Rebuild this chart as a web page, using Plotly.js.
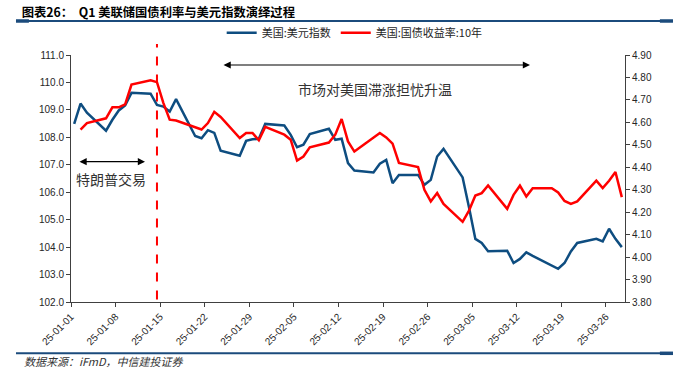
<!DOCTYPE html>
<html>
<head>
<meta charset="utf-8">
<script src="https://cdn.plot.ly/plotly-3.0.1.min.js"></script>
<style>html,body{margin:0;padding:0;background:#fff;}#chart{width:700px;height:376px;}</style>
</head>
<body>
<div id="chart"></div>
<script>
// ---- data ----
const dxyDates = ['2025-01-01','2025-01-02','2025-01-03','2025-01-06','2025-01-07','2025-01-08','2025-01-09','2025-01-10',
  '2025-01-13','2025-01-14','2025-01-15','2025-01-16','2025-01-17','2025-01-20','2025-01-21','2025-01-22','2025-01-23','2025-01-24',
  '2025-01-27','2025-01-28','2025-01-29','2025-01-30','2025-01-31','2025-02-03','2025-02-04','2025-02-05','2025-02-06','2025-02-07',
  '2025-02-10','2025-02-11','2025-02-12','2025-02-13','2025-02-14','2025-02-17','2025-02-18','2025-02-19','2025-02-20','2025-02-21',
  '2025-02-24','2025-02-25','2025-02-26','2025-02-27','2025-02-28','2025-03-03','2025-03-04','2025-03-05','2025-03-06','2025-03-07',
  '2025-03-10','2025-03-11','2025-03-12','2025-03-13','2025-03-14','2025-03-17','2025-03-18','2025-03-19','2025-03-20','2025-03-21',
  '2025-03-24','2025-03-25','2025-03-26','2025-03-27','2025-03-28'];
const dxyValues = [108.49,109.23,108.90,108.24,108.64,108.98,109.16,109.62,
  109.59,109.18,109.12,108.94,109.39,108.05,107.97,108.26,108.16,107.51,
  107.33,107.87,107.93,107.95,108.49,108.43,108.09,107.64,107.73,108.12,
  108.31,107.91,107.95,107.06,106.79,106.72,107.04,107.18,106.33,106.63,
  106.63,106.27,106.45,107.30,107.58,106.54,105.45,104.30,104.15,103.85,
  103.87,103.42,103.57,103.81,103.68,103.32,103.21,103.42,103.84,104.15,
  104.30,104.21,104.67,104.30,104.00];

const ustDates = ['2025-01-02','2025-01-03','2025-01-06','2025-01-07','2025-01-08','2025-01-09','2025-01-10',
  '2025-01-13','2025-01-14','2025-01-15','2025-01-16','2025-01-17','2025-01-21','2025-01-22','2025-01-23','2025-01-24',
  '2025-01-27','2025-01-28','2025-01-29','2025-01-30','2025-01-31','2025-02-03','2025-02-04','2025-02-05','2025-02-06','2025-02-07',
  '2025-02-10','2025-02-11','2025-02-12','2025-02-13','2025-02-14','2025-02-18','2025-02-19','2025-02-20','2025-02-21',
  '2025-02-24','2025-02-25','2025-02-26','2025-02-27','2025-02-28','2025-03-03','2025-03-04','2025-03-05','2025-03-06','2025-03-07',
  '2025-03-10','2025-03-11','2025-03-12','2025-03-13','2025-03-14','2025-03-17','2025-03-18','2025-03-19','2025-03-20','2025-03-21',
  '2025-03-24','2025-03-25','2025-03-26','2025-03-27','2025-03-28'];
const ustValues = [4.568,4.597,4.618,4.667,4.667,4.680,4.768,
  4.787,4.779,4.687,4.612,4.608,4.568,4.597,4.647,4.624,
  4.530,4.553,4.553,4.520,4.580,4.545,4.523,4.430,4.448,4.489,
  4.510,4.545,4.615,4.515,4.470,4.553,4.533,4.505,4.419,
  4.401,4.300,4.248,4.285,4.237,4.157,4.207,4.274,4.285,4.319,
  4.215,4.277,4.318,4.270,4.307,4.307,4.288,4.250,4.237,4.248,
  4.340,4.307,4.340,4.379,4.267];

const seriesNames = ['美国:美元指数', '美国:国债收益率:10年'];
const chartTitle = '图表26：  Q1 美联储国债利率与美元指数演绎过程';
const sourceText = '数据来源：iFmD，中信建投证券';
const noteTop = '市场对美国滞涨担忧升温';
const noteLeft = '特朗普交易';
const eventDate = '2025-01-14 12:00';
const xRange = ['2025-01-01', '2025-03-29'];

// ---- chart ----
const BLUE = '#0E4D80', RED = '#FF0000', NAVY = '#1B4B7C';
const tickFont = {family: 'Liberation Sans, Arial, sans-serif', size: 10, color: '#262626'};
const cjk = 'Noto Sans CJK SC, sans-serif';

const traces = [
  {x: dxyDates, y: dxyValues, name: seriesNames[0], type: 'scatter', mode: 'lines',
   xperiod: 86400000, xperiodalignment: 'middle',
   line: {color: BLUE, width: 2.5}, yaxis: 'y'},
  {x: ustDates, y: ustValues, name: seriesNames[1], type: 'scatter', mode: 'lines',
   xperiod: 86400000, xperiodalignment: 'middle',
   line: {color: RED, width: 2.5}, yaxis: 'y2'}
];

const layout = {
  width: 700, height: 376,
  margin: {l: 71, r: 75, t: 55, b: 74},
  paper_bgcolor: '#fff', plot_bgcolor: '#fff',
  showlegend: true,
  legend: {orientation: 'h', x: 0.272, xanchor: 'left', y: 1.09, yanchor: 'middle',
           font: {family: cjk, size: 11, color: '#262626'}, itemwidth: 30,
           bgcolor: 'rgba(0,0,0,0)', traceorder: 'normal'},
  title: {text: '<b>' + chartTitle + '</b>', xref: 'container', yref: 'container',
          x: 0.031, xanchor: 'left', y: 0.965, yanchor: 'middle',
          font: {family: cjk, size: 12.3, color: '#000'}},
  xaxis: {type: 'date', range: xRange, tick0: '2025-01-01', dtick: 7 * 86400000,
          tickformat: '%y-%m-%d', tickangle: -45, tickfont: tickFont,
          showgrid: false, zeroline: false, showline: true, linecolor: '#404040', linewidth: 1,
          ticks: 'outside', ticklen: 4, tickcolor: '#404040'},
  yaxis: {range: [102, 111], dtick: 1, tickformat: '.1f', tickfont: tickFont,
          showgrid: false, zeroline: false, showline: true, linecolor: '#404040', linewidth: 1,
          ticks: 'outside', ticklen: 4, tickcolor: '#404040'},
  yaxis2: {range: [3.8, 4.9], dtick: 0.1, tickformat: '.2f', tickfont: tickFont, overlaying: 'y', side: 'right',
           showgrid: false, zeroline: false, showline: true, linecolor: '#404040', linewidth: 1,
           ticks: 'outside', ticklen: 4, tickcolor: '#404040'},
  shapes: [
    {type: 'line', xref: 'x', yref: 'paper', x0: eventDate, x1: eventDate, y0: 0.01, y1: 1.045,
     line: {color: RED, width: 2, dash: 'dash'}},
    {type: 'line', xref: 'paper', yref: 'paper', x0: -0.0993, x1: 1.0866, y0: 1.1377, y1: 1.1377,
     line: {color: NAVY, width: 2}},
    {type: 'line', xref: 'paper', yref: 'paper', x0: -0.0993, x1: -0.076, y0: 1.1377, y1: 1.1377,
     line: {color: NAVY, width: 3.5}},
    {type: 'line', xref: 'paper', yref: 'paper', x0: 1.063, x1: 1.0866, y0: 1.1377, y1: 1.1377,
     line: {color: NAVY, width: 3.5}},
    {type: 'line', xref: 'paper', yref: 'paper', x0: -0.0993, x1: 1.0866, y0: -0.2077, y1: -0.2077,
     line: {color: NAVY, width: 2}},
    {type: 'line', xref: 'paper', yref: 'paper', x0: 1.063, x1: 1.0866, y0: -0.2077, y1: -0.2077,
     line: {color: NAVY, width: 3.5}}
  ],
  annotations: [
    {xref: 'paper', yref: 'paper', x: 0.8285, y: 0.9595, axref: 'paper', ayref: 'paper', ax: 0.2726, ay: 0.9595,
     text: '', showarrow: true, arrowhead: 2, arrowside: 'end+start', arrowsize: 1.2, arrowwidth: 1.2, arrowcolor: '#000'},
    {xref: 'paper', yref: 'paper', x: 0.1336, y: 0.568, axref: 'paper', ayref: 'paper', ax: 0.0126, ay: 0.568,
     text: '', showarrow: true, arrowhead: 2, arrowside: 'end+start', arrowsize: 1.2, arrowwidth: 1.2, arrowcolor: '#000'},
    {xref: 'paper', yref: 'paper', x: 0.5487, y: 0.8623, text: noteTop, showarrow: false,
     xanchor: 'center', yanchor: 'middle', font: {family: cjk, size: 14, color: '#333'}},
    {xref: 'paper', yref: 'paper', x: 0.0731, y: 0.4968, text: noteLeft, showarrow: false,
     xanchor: 'center', yanchor: 'middle', font: {family: cjk, size: 14, color: '#333'}},
    {xref: 'paper', yref: 'paper', x: -0.0884, y: -0.2389, text: '<i>' + sourceText + '</i>', showarrow: false,
     xanchor: 'left', yanchor: 'middle', font: {family: cjk, size: 11, color: '#333'}}
  ]
};

Plotly.newPlot('chart', traces, layout, {staticPlot: true, displayModeBar: false});
</script>
</body>
</html>
